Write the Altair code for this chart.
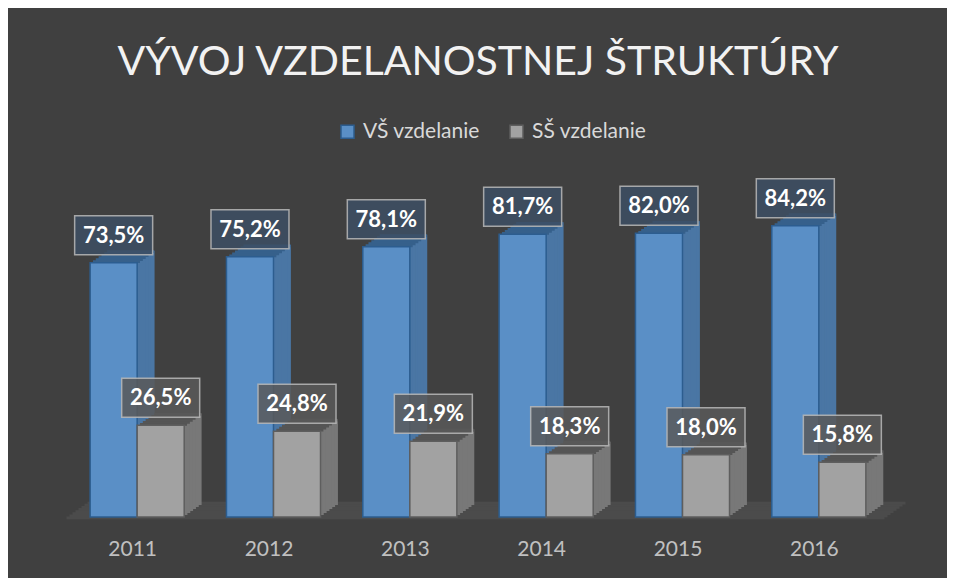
import altair as alt
import pandas as pd

years = [2011, 2012, 2013, 2014, 2015, 2016]
vs_values = [73.5, 75.2, 78.1, 81.7, 82.0, 84.2]
ss_values = [26.5, 24.8, 21.9, 18.3, 18.0, 15.8]
series_names = ["VŠ vzdelanie", "SŠ vzdelanie"]
title_text = "VÝVOJ VZDELANOSTNEJ ŠTRUKTÚRY"

front_colors = ["#5a8fc6", "#a2a2a2"]
edge_colors = ["#2c5d8f", "#5e5e5e"]
side_colors = ["#4a76a4", "#787878"]
top_colors = ["#36608b", "#555555"]
box_colors = ["#3d4f64", "#595959"]

rows = []
for i, yr in enumerate(years):
    rows.append({"year": yr, "series": series_names[0], "value": vs_values[i], "order": 0})
    rows.append({"year": yr, "series": series_names[1], "value": ss_values[i], "order": 1})
df = pd.DataFrame(rows)

BW = 0.345
D = 17.0   # depth dx (px)
H = 12.0   # depth dy (px)
N = 6

base = alt.Chart(df).transform_calculate(
    x0=f"datum.year + (datum.order == 0 ? {-BW} : 0)",
    x1=f"datum.year + (datum.order == 0 ? 0 : {BW})",
    xc=f"datum.year + (datum.order == 0 ? {-BW / 2} : {BW / 2})",
    zero="0",
    label="replace(format(datum.value, '.1f'), '.', ',') + '%'",
    side_color=f"datum.order == 0 ? '{side_colors[0]}' : '{side_colors[1]}'",
    top_color=f"datum.order == 0 ? '{top_colors[0]}' : '{top_colors[1]}'",
    box_color=f"datum.order == 0 ? '{box_colors[0]}' : '{box_colors[1]}'",
)

xscale = alt.Scale(domain=[2010.5, 2016.5], nice=False, zero=False)
yscale = alt.Scale(domain=[0, 100], nice=False)

xaxis = alt.Axis(values=years, format="d", domain=False, ticks=False, grid=False,
                 labelColor="#c0c0c0", labelFontSize=21, labelFont="Lato",
                 labelPadding=21, labelOffset=-5, title=None)

layers = []

# floor
floor_base = alt.Chart(df).transform_aggregate(
    mn="min(year)", mx="max(year)"
).transform_calculate(a="datum.mn - 0.5", b="datum.mx + 0.5", zero="0")
NF = 8
for k in range(NF):
    layers.append(
        floor_base.mark_rect(
            color="#4b4b4b",
            xOffset=-4 + 24 * (k + 0.5) / NF, x2Offset=-4 + 24 * (k + 0.5) / NF,
            yOffset=2 - 17 * k / NF + 0.3, y2Offset=2 - 17 * (k + 1) / NF - 0.3,
        ).encode(
            x=alt.X("a:Q", scale=xscale, axis=xaxis),
            x2="b:Q",
            y=alt.Y("zero:Q", scale=yscale, axis=None),
            y2="zero:Q",
        )
    )

# side faces
for k in range(1, N + 1):
    layers.append(
        base.mark_rect(
            xOffset=D * (k - 1) / N - 0.4, x2Offset=D * k / N + 0.4,
            yOffset=-H * k / N, y2Offset=-H * k / N,
        ).encode(
            x=alt.X("x1:Q", scale=xscale, axis=xaxis),
            x2="x1:Q",
            y=alt.Y("value:Q", scale=yscale, axis=None),
            y2="zero:Q",
            fill=alt.Fill("side_color:N", scale=None),
        )
    )

# top faces
for k in range(1, N + 1):
    layers.append(
        base.mark_rect(
            xOffset=D * k / N, x2Offset=D * k / N,
            yOffset=-H * k / N - 0.4, y2Offset=-H * (k - 1) / N + 0.4,
        ).encode(
            x=alt.X("x0:Q", scale=xscale, axis=xaxis),
            x2="x1:Q",
            y=alt.Y("value:Q", scale=yscale, axis=None),
            y2="value:Q",
            fill=alt.Fill("top_color:N", scale=None),
        )
    )

legend = alt.Legend(
    title=None, orient="none", direction="horizontal",
    legendX=268, legendY=-50,
    symbolType="square", symbolSize=169, symbolStrokeWidth=1.5,
    labelColor="#d9d9d9", labelFontSize=21, labelFont="Lato",
    labelOffset=5, columnPadding=26,
)

# front faces
layers.append(
    base.mark_rect(strokeWidth=1.5).encode(
        x=alt.X("x0:Q", scale=xscale, axis=xaxis),
        x2="x1:Q",
        y=alt.Y("value:Q", scale=yscale, axis=None),
        y2="zero:Q",
        fill=alt.Fill("series:N", scale=alt.Scale(domain=series_names, range=front_colors), legend=legend),
        stroke=alt.Stroke("series:N", scale=alt.Scale(domain=series_names, range=edge_colors), legend=legend),
    )
)

# label boxes
layers.append(
    base.mark_rect(
        xOffset=-39, x2Offset=39, yOffset=-47, y2Offset=-8,
        stroke="#b8b8b8", strokeOpacity=0.85, strokeWidth=1.5, fillOpacity=0.85,
    ).encode(
        x=alt.X("xc:Q", scale=xscale, axis=xaxis),
        x2="xc:Q",
        y=alt.Y("value:Q", scale=yscale, axis=None),
        y2="value:Q",
        fill=alt.Fill("box_color:N", scale=None),
    )
)

# label texts
layers.append(
    base.mark_text(font="Lato", fontWeight="bold", fontSize=22, color="#ffffff",
                   dy=-27, baseline="middle", align="center").encode(
        x=alt.X("xc:Q", scale=xscale, axis=xaxis),
        y=alt.Y("value:Q", scale=yscale, axis=None),
        text="label:N",
    )
)

chart = alt.layer(*layers).properties(
    width=818, height=346,
    padding={"left": 61, "top": 163, "right": 60, "bottom": 61},
    autosize=alt.AutoSizeParams(type="none"),
    title=alt.TitleParams(title_text, font="Lato", fontSize=41, fontWeight="normal",
                          color="#f2f2f2", anchor="middle", offset=37),
).configure(background="#404040").configure_view(stroke=None)

chart.save("out.html", embed_options={"renderer": "svg", "actions": False})
